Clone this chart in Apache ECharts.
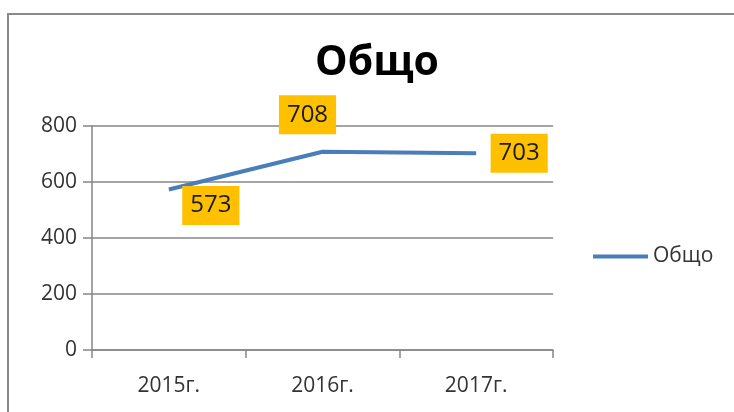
<!DOCTYPE html>
<html>
<head>
<meta charset="utf-8">
<script src="https://cdn.jsdelivr.net/npm/echarts@6/dist/echarts.min.js"></script>
<style>html,body{margin:0;padding:0;background:#fff}#c{width:734px;height:412px}</style>
</head>
<body>
<div id="c"></div>
<script>
const categories = ['2015г.', '2016г.', '2017г.'];
const seriesName = 'Общо';
const values = [573, 708, 703];
const yTicks = [0, 200, 400, 600, 800];
const labelOffsets = [[42, 16], [-15, -37], [43, 0]];

const chart = echarts.init(document.getElementById('c'));
const font = '"Open Sans", "DejaVu Sans", sans-serif';
chart.setOption({
  backgroundColor: '#fff',
  animation: false,
  textStyle: { fontFamily: font },
  graphic: [{
    type: 'rect', shape: { x: 8, y: 14, width: 900, height: 600 },
    style: { fill: 'none', stroke: '#8a8a8a', lineWidth: 2 }, silent: true
  }],
  title: {
    text: 'Общо', left: 310, top: 38,
    textStyle: { fontFamily: font, fontSize: 41, fontWeight: 'bold', color: '#000' }
  },
  legend: {
    data: [{ name: seriesName, icon: 'rect' }], left: 593, top: 246, padding: 0,
    itemWidth: 55, itemHeight: 4, itemGap: 4,
    textStyle: { fontFamily: font, fontSize: 21, color: '#333' }
  },
  grid: { left: 92, right: 181, top: 126, bottom: 62, containLabel: false },
  xAxis: {
    type: 'category', data: categories, boundaryGap: true,
    axisLine: { lineStyle: { color: '#868686', width: 1.5 } },
    axisTick: { show: true, length: 8, lineStyle: { color: '#868686', width: 1.5 } },
    axisLabel: { margin: 26, fontSize: 21, color: '#333', fontFamily: font }
  },
  yAxis: {
    type: 'value', min: yTicks[0], max: yTicks[yTicks.length - 1], interval: yTicks[1] - yTicks[0],
    axisLine: { show: true, lineStyle: { color: '#868686', width: 1.5 } },
    axisTick: { show: true, length: 9, lineStyle: { color: '#868686', width: 1.5 } },
    splitLine: { lineStyle: { color: '#868686', width: 1.5 } },
    axisLabel: { margin: 15, fontSize: 21, color: '#333', fontFamily: font }
  },
  series: [{
    name: seriesName, type: 'line', symbol: 'circle', symbolSize: 0,
    lineStyle: { color: '#4a7ebb', width: 4 },
    itemStyle: { color: '#4a7ebb' },
    data: values.map((v, i) => ({
      value: v,
      label: {
        show: true, position: 'inside', offset: labelOffsets[i],
        backgroundColor: '#ffc000', color: '#1a1a1a', fontSize: 24, fontFamily: font,
        padding: [7, 8, 5, 8], lineHeight: 27
      }
    }))
  }]
});
</script>
</body>
</html>
